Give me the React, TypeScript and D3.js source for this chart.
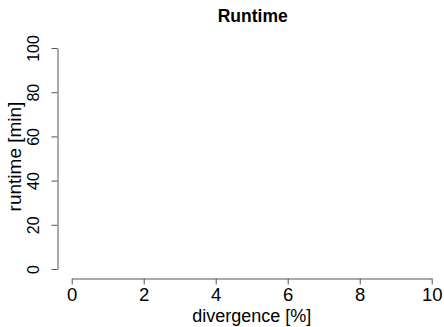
import React, { useRef, useEffect } from 'react';
import * as d3 from 'd3';

// empty R-style plot: only axes, no data drawn
const xTicks = [0, 2, 4, 6, 8, 10];
const yTicks = [0, 20, 40, 60, 80, 100];
const xDomain = [0, 10];
const yDomain = [0, 100];
const title = 'Runtime';
const xLabel = 'divergence [%]';
const yLabel = 'runtime [min]';

const App = () => {
  const svgRef = useRef<SVGSVGElement>(null);

  useEffect(() => {
    const width = 444;
    const height = 327;
    const font = 'Liberation Sans, Arial, Helvetica, sans-serif';
    const axisColor = '#555';

    const svg = d3.select(svgRef.current)
      .attr('width', width)
      .attr('height', height)
      .style('background', 'white');

    svg.selectAll('*').remove();

    const xScale = d3.scaleLinear().domain(xDomain).range([71.7, 431.7]);
    const yScale = d3.scaleLinear().domain(yDomain).range([269, 48]);

    // X axis (detached, below plot region)
    const xAxis = svg.append('g')
      .attr('transform', 'translate(0, 278.5)')
      .call(d3.axisBottom(xScale).tickValues(xTicks).tickSize(6).tickSizeOuter(0));
    xAxis.select('.domain').attr('stroke', axisColor);
    xAxis.selectAll('.tick line').attr('stroke', axisColor);
    xAxis.selectAll('.tick text')
      .attr('fill', 'black')
      .attr('font-family', font)
      .attr('font-size', 18.5)
      .attr('dy', null)
      .attr('y', 22.5);

    // Y axis with rotated labels
    const yAxis = svg.append('g')
      .attr('transform', 'translate(57.5, 0)')
      .call(d3.axisLeft(yScale).tickValues(yTicks).tickSize(6).tickSizeOuter(0));
    yAxis.select('.domain').attr('stroke', axisColor);
    yAxis.selectAll('.tick line').attr('stroke', axisColor);
    yAxis.selectAll('.tick text')
      .attr('fill', 'black')
      .attr('font-family', font)
      .attr('font-size', 16)
      .attr('x', null)
      .attr('dy', null)
      .attr('text-anchor', 'middle')
      .attr('transform', 'translate(-18.5, 0) rotate(-90)');

    svg.append('text')
      .attr('x', (xScale(0) + xScale(10)) / 2 + 1)
      .attr('y', 22)
      .attr('text-anchor', 'middle')
      .attr('font-family', font)
      .attr('font-weight', 'bold')
      .attr('font-size', 17.5)
      .text(title);

    svg.append('text')
      .attr('x', (xScale(0) + xScale(10)) / 2)
      .attr('y', 322)
      .attr('text-anchor', 'middle')
      .attr('font-family', font)
      .attr('font-size', 18)
      .text(xLabel);

    svg.append('text')
      .attr('transform', `translate(21, ${(yScale(0) + yScale(100)) / 2 - 2}) rotate(-90)`)
      .attr('text-anchor', 'middle')
      .attr('font-family', font)
      .attr('font-size', 19)
      .text(yLabel);
  }, []);

  return <svg ref={svgRef} style={{ position: 'absolute', left: 0, top: 0 }}></svg>;
};

export default App;
